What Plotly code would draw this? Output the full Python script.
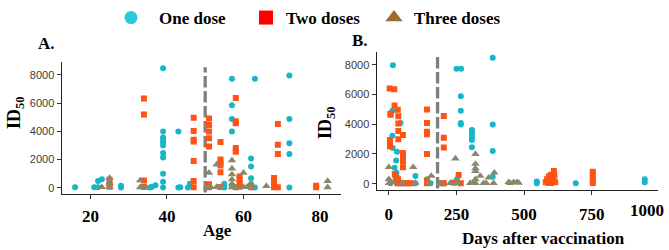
import plotly.graph_objects as go

W, H = 669, 250

# ---------------- data ----------------
dose_names = ["One dose", "Two doses", "Three doses"]

# Panel A: Age vs ID50
age_one = [16, 21, 22, 22, 23, 28, 28, 35.5, 36, 37,
           39, 39, 39, 39, 39, 39, 39, 39, 39, 39, 39,
           43, 43, 43.5, 45.5, 46, 57, 63, 72, 57, 57, 57,
           72, 72, 72, 62, 62, 62, 62, 63, 55, 55, 72, 57]
id_one_a = [40, 30, 30, 480, 600, 20, 150, 20, 60, 170,
            8480, 3980, 3560, 3390, 3230, 3000, 2460, 2150, 985, 420, 20,
            3980, 20, 40, 20, 280, 7720, 7720, 7960, 5850, 4870, 3980,
            4870, 3160, 2390, 2080, 1500, 680, 270, 20, 280, 20, 20, 120]

age_two = [25, 25, 25, 34, 34, 34, 34,
           47, 47, 47, 47, 47, 47, 47,
           51, 51, 51, 51, 51, 51, 51,
           54, 54, 54, 54, 54, 54,
           58, 58, 58, 58, 58, 58,
           59, 59, 59, 59, 62, 62,
           68, 68, 68, 68, 69, 69, 69, 69, 79, 79]
id_two_a = [560, 250, 80, 6320, 5200, 520, 60,
            4960, 4030, 3400, 3280, 1900, 480, 40,
            4910, 4450, 3980, 3510, 2930, 250, 30,
            3250, 2000, 1780, 1580, 1100, 60,
            6370, 4720, 4580, 2810, 2550, 40,
            800, 560, 320, 80, 150, 30,
            700, 480, 250, 40, 40, 4520, 3040, 2390, 150, 30]

age_three = [23, 25, 25, 25, 33, 33, 34, 51, 50.5, 51.5, 53, 53, 54,
             57, 57, 57, 57, 57, 57, 58, 60, 60, 61, 62, 66, 82, 82]
id_three_a = [40, 700, 350, 40, 520, 30, 30, 1055, 30, 40, 1640, 50, 40,
              1950, 1360, 940, 590, 280, 30, 40, 1055, 50, 80, 40, 120, 470, 30]

# Panel B: Days after vaccination vs ID50
days_one = [15, 250, 267, 384, 266, 266, 266, 266, 384, 384, 384,
            307, 307, 307, 307, 307, 307,
            13, 43, 13, 14, 30, 27, 21, 28, 25, 30, 35, 98, 98, 141, 252,
            6, 92, 154, 547, 547, 691, 946, 946]
id_one_b = [7970, 7720, 7720, 8470, 5870, 4900, 4085, 3975, 3975, 2190, 470,
            3600, 3450, 3270, 3095, 2940, 2455,
            4900, 4085, 3226, 2390, 2150, 1550, 1070, 740, 400, 300, 100, 516, 20, 295, 295,
            30, 30, 30, 150, 20, 20, 300, 100]

days_two = [3, 20, 21, 33, 6, 6, 35, 35, 35, 52, 35, 4, 4, 4, 52, 52, 52, 52, 22, 28, 34,
            43, 55, 68, 78, 31,
            141, 141, 141, 141, 141, 141, 141,
            203, 203, 203, 203,
            258, 266, 197, 240,
            580, 585, 592, 600, 605, 610, 612, 615, 600, 590, 608,
            754, 754, 754, 754]
id_two_b = [6400, 6350, 5250, 4970, 4700, 4640, 4530, 4045, 3535, 3270, 2985, 2940, 2790, 2500,
            2060, 1800, 1510, 1110, 630, 400, 300,
            30, 30, 30, 30, 30,
            4990, 4085, 3490, 3315, 1990, 200, 30,
            4550, 3095, 2430, 30,
            580, 30, 30, 60,
            100, 300, 500, 600, 350, 850, 550, 100, 50, 50, 200,
            800, 550, 300, 50]

days_three = [0, 90, 0, 0, 18, 49, 98, 147, 157, 190, 227, 246, 252,
              320, 320, 320, 320, 338, 320, 320, 369, 390, 360, 387,
              443, 461, 473, 449, 480, 313, 301, 350]
id_three_b = [1110, 1110, 300, 30, 100, 60, 50, 30, 516, 30, 40, 1684, 30,
              1990, 1330, 1020, 850, 516, 295, 30, 405, 736, 30, 30,
              100, 100, 100, 30, 60, 60, 40, 30]

cutoff_age = 50
cutoff_days = 180
cutoff_top = 8550

age_ticks = [20, 40, 60, 80]
days_ticks = [0, 250, 500, 750, 1000]
days_ticktext = ["0", "250", "500", "750", " "]
id_ticks = [0, 2000, 4000, 6000, 8000]

# ---------------- style ----------------
plot_colors = ["#16b6c9", "#ff5314", "#8a886c"]
legend_colors = ["#2bcadb", "#ff0000", "#9e6a32"]
symbols = ["circle", "square", "triangle-up"]
sizes = [6, 6, 7.5]
legend_sizes = [13, 14, 15]

SERIF = "Liberation Serif"
SANS = "Liberation Sans"


def px(x):
    return x / W


def py(y):
    return 1 - y / H


fig = go.Figure()

panelA = [(age_one, id_one_a), (age_two, id_two_a), (age_three, id_three_a)]
panelB = [(days_one, id_one_b), (days_two, id_two_b), (days_three, id_three_b)]

for i, (xs, ys) in enumerate(panelA):
    fig.add_trace(go.Scatter(x=xs, y=ys, mode="markers", xaxis="x", yaxis="y",
                             showlegend=False,
                             marker=dict(symbol=symbols[i], size=sizes[i], color=plot_colors[i])))
for i, (xs, ys) in enumerate(panelB):
    fig.add_trace(go.Scatter(x=xs, y=ys, mode="markers", xaxis="x2", yaxis="y2",
                             showlegend=False,
                             marker=dict(symbol=symbols[i], size=sizes[i], color=plot_colors[i])))

legend_ids = ["legend", "legend2", "legend3"]
legend_centers = [131, 266, 394]
legend_itemwidths = [46, 30, 30]
for i, name in enumerate(dose_names):
    fig.add_trace(go.Scatter(x=[None], y=[None], mode="markers", name=name,
                             legend=legend_ids[i], xaxis="x", yaxis="y",
                             marker=dict(symbol=symbols[i], size=legend_sizes[i],
                                         color=legend_colors[i])))

legfont = dict(family=SERIF, size=17, color="black", weight="bold")
leg_layout = {}
for i, lid in enumerate(legend_ids):
    offset = legend_itemwidths[i] / 2 + 5
    leg_layout[lid] = dict(x=px(legend_centers[i] - offset), y=py(16), xanchor="left",
                           yanchor="middle", orientation="h", font=legfont,
                           itemwidth=legend_itemwidths[i],
                           bgcolor="rgba(0,0,0,0)", borderwidth=0,
                           itemclick=False, itemdoubleclick=False)

axis_common = dict(showgrid=False, zeroline=False, showline=True, linecolor="#222222",
                   linewidth=1.2, ticks="outside", ticklen=4, tickwidth=1, tickcolor="#333333")
xfont = dict(family=SERIF, size=17, color="black", weight="bold")
yfont = dict(family=SANS, size=11, color="#3a3a3a")

fig.update_layout(
    width=W, height=H, margin=dict(l=0, r=0, t=0, b=0),
    paper_bgcolor="white", plot_bgcolor="white",
    xaxis=dict(domain=[px(61.7), px(341)], range=[12.5, 85.5], tickvals=age_ticks,
               tickfont=xfont, ticklabelstandoff=3, anchor="y", **axis_common),
    yaxis=dict(domain=[py(193.3), py(60.7)], range=[-425, 8900], tickvals=id_ticks,
               tickfont=yfont, anchor="x", **axis_common),
    xaxis2=dict(domain=[px(376.7), px(658)], range=[-45, 995], tickvals=days_ticks,
                ticktext=days_ticktext, tickfont=xfont, ticklabelstandoff=4, anchor="y2",
                **axis_common),
    yaxis2=dict(domain=[py(189.5), py(50)], range=[-425, 8880], tickvals=id_ticks,
                tickfont=yfont, anchor="x2", **axis_common),
    **leg_layout,
)

dash_line = dict(color="#7f7f7f", width=3.3, dash="11.5px,3.5px")
fig.add_shape(type="line", xref="x", yref="y", x0=cutoff_age, x1=cutoff_age,
              y0=-330, y1=cutoff_top, line=dash_line, layer="below")
fig.add_shape(type="line", xref="x2", yref="y2", x0=cutoff_days, x1=cutoff_days,
              y0=-330, y1=cutoff_top, line=dash_line, layer="below")

titlefont = dict(family=SERIF, size=17, color="black", weight="bold")
idfont = dict(family=SERIF, size=18, color="black", weight="bold")
annots = [
    dict(text="A.", x=px(46.5), y=py(42), font=titlefont),
    dict(text="B.", x=px(360), y=py(39), font=titlefont),
    dict(text="Age", x=px(217.5), y=py(230), font=titlefont),
    dict(text="Days after vaccination", x=px(543), y=py(238), font=titlefont),
    dict(text="1000", x=px(647), y=py(210), font=xfont),
    dict(text="ID<sub>50</sub>", x=px(15), y=py(112), font=idfont, textangle=-90),
    dict(text="ID<sub>50</sub>", x=px(326), y=py(122), font=idfont, textangle=-90),
]
for a in annots:
    fig.add_annotation(xref="paper", yref="paper", xanchor="center", yanchor="middle",
                       showarrow=False, **a)

fig.write_html("out.html",
               config={"displayModeBar": False, "staticPlot": True},
               post_script="document.body.style.margin='0px';document.body.style.padding='0px';")
